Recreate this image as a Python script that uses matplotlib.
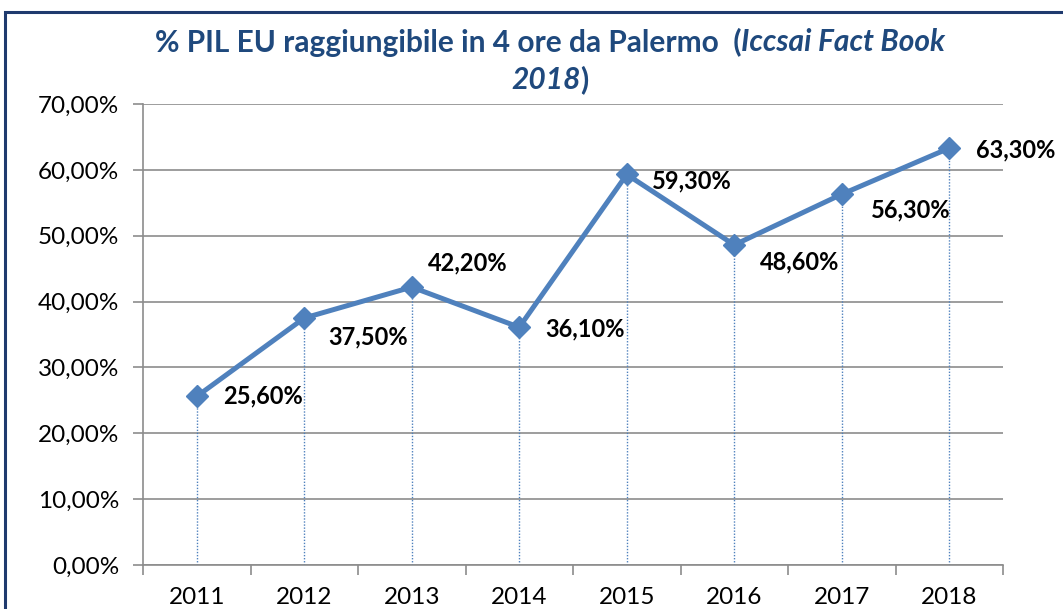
import matplotlib.pyplot as plt
import matplotlib.patches as patches
from matplotlib.ticker import FuncFormatter, FixedLocator

plt.rcParams['font.family'] = ['Lato', 'DejaVu Sans']

# data
years = ['2011', '2012', '2013', '2014', '2015', '2016', '2017', '2018']
pil_pct = [25.6, 37.5, 42.2, 36.1, 59.3, 48.6, 56.3, 63.3]
# label offsets (points) per data point
label_dx = [18.7, 17.3, 11.5, 18.7, 18, 18.7, 20.9, 19.4]
label_dy = [0, -13.7, 17.3, -1.4, -4.7, -12.2, -11.5, -1.4]

line_blue = '#4F81BD'
title_blue = '#1F497D'
grid_grey = '#8C8C8C'

fig = plt.figure(figsize=(10.63, 6.09), dpi=100)
ax = fig.add_axes([143 / 1063, 1 - 565 / 609, 860 / 1063, 461 / 609])

x = list(range(len(years)))

# drop lines
ax.vlines(x, 0, pil_pct, colors=line_blue, linestyles=(0, (1, 1.2)), linewidth=1.0, zorder=2)

ax.plot(x, pil_pct, color=line_blue, linewidth=3.6, marker='D', markersize=11,
        markerfacecolor=line_blue, markeredgecolor=line_blue, zorder=3)

for xi, v, dx, dy in zip(x, pil_pct, label_dx, label_dy):
    ax.annotate(f"{v:.2f}%".replace('.', ','), (xi, v), xytext=(dx, dy), textcoords='offset points',
                ha='left', va='center', fontsize=17, fontweight='bold', color='black', zorder=4)

ax.set_xlim(-0.5, len(years) - 0.5)
ax.set_ylim(0, 70)
ax.set_yticks(range(0, 71, 10))
ax.yaxis.set_major_formatter(FuncFormatter(lambda v, p: f"{v:.2f}%".replace('.', ',')))
ax.yaxis.grid(True, color=grid_grey, linewidth=1.2)
ax.set_axisbelow(True)

ax.set_xticks(x)
ax.set_xticklabels(years)
ax.xaxis.set_minor_locator(FixedLocator([i - 0.5 for i in range(len(years) + 1)]))
ax.tick_params(axis='x', which='major', length=0, pad=16, labelsize=17.5)
ax.tick_params(axis='x', which='minor', length=7, width=1.2, color=grid_grey)
ax.tick_params(axis='y', length=7, width=1.2, color=grid_grey, labelsize=17.5, pad=10)

for side in ['top', 'right']:
    ax.spines[side].set_visible(False)
for side in ['left', 'bottom']:
    ax.spines[side].set_color(grid_grey)
    ax.spines[side].set_linewidth(1.2)

# title: two lines, partly italic
title_size = 21.5
t1 = fig.text(0, 1 - 42 / 609, "% PIL EU raggiungibile in 4 ore da Palermo  (", va='center',
              fontsize=title_size, fontweight='bold', color=title_blue)
t2 = fig.text(0, 1 - 42 / 609, "Iccsai Fact Book", va='center',
              fontsize=title_size, fontweight='bold', style='italic', color=title_blue)
t3 = fig.text(0, 1 - 80 / 609, "2018", va='center',
              fontsize=title_size, fontweight='bold', style='italic', color=title_blue)
t4 = fig.text(0, 1 - 80 / 609, ")", va='center',
              fontsize=title_size, fontweight='bold', color=title_blue)

fig.canvas.draw()
r = fig.canvas.get_renderer()
w1 = t1.get_window_extent(r).width
w2 = t2.get_window_extent(r).width
w3 = t3.get_window_extent(r).width
w4 = t4.get_window_extent(r).width
cx = 550
start = cx - (w1 + w2) / 2
t1.set_x(start / 1063)
t2.set_x((start + w1) / 1063)
start2 = cx - (w3 + w4) / 2
t3.set_x(start2 / 1063)
t4.set_x((start2 + w3) / 1063)

# outer chart frame (cropped on right/bottom)
fig.patches.append(patches.Rectangle((5 / 1063, -0.1), 1.2, 1 - 12 / 609 + 0.1,
                                     transform=fig.transFigure, fill=False,
                                     edgecolor='#1F3A6E', linewidth=2.2, clip_on=False))

fig.savefig('out.png', dpi=100)
